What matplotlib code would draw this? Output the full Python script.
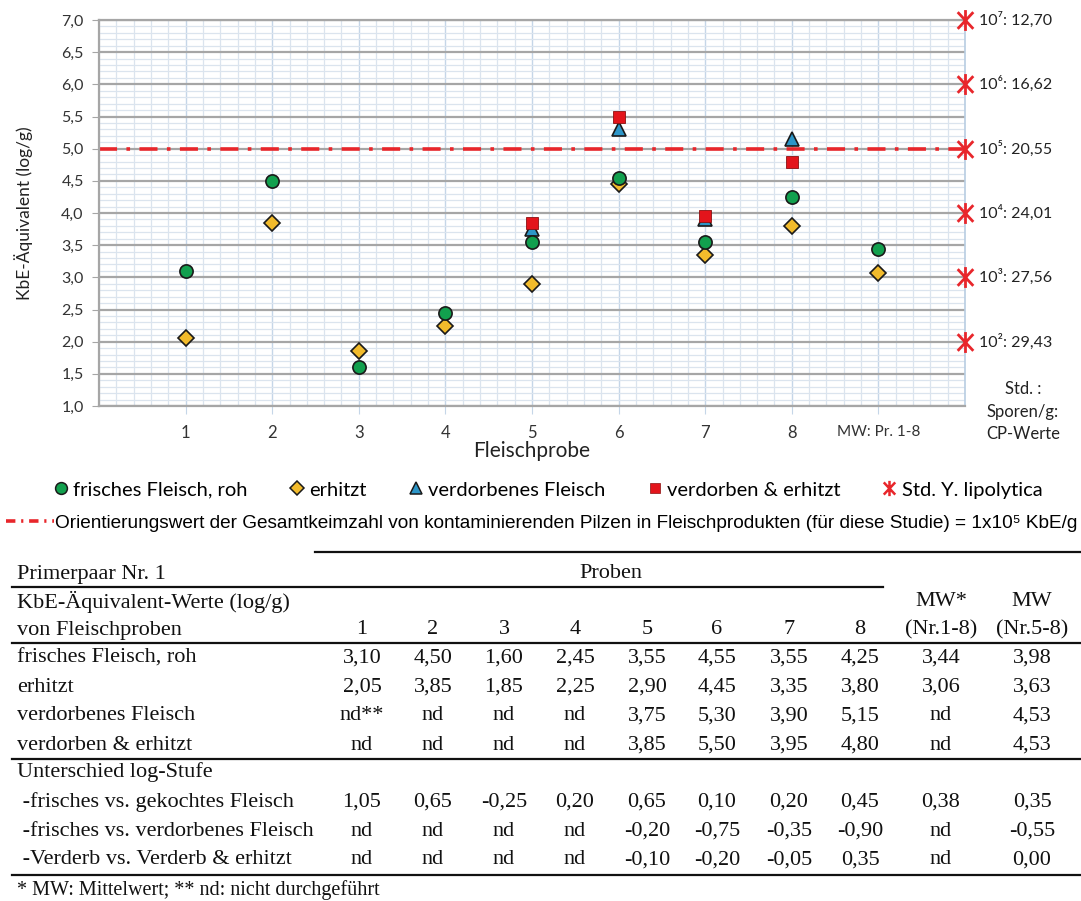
import numpy as np
import matplotlib
matplotlib.use("Agg")
import matplotlib.pyplot as plt
from matplotlib.lines import Line2D
from matplotlib.path import Path

# data (log KbE/g), Proben 1-8 + MW (Nr.1-8) + MW (Nr.5-8)
proben = ["1", "2", "3", "4", "5", "6", "7", "8"]
frisch = [3.10, 4.50, 1.60, 2.45, 3.55, 4.55, 3.55, 4.25, 3.44, 3.98]
erhitzt = [2.05, 3.85, 1.85, 2.25, 2.90, 4.45, 3.35, 3.80, 3.06, 3.63]
verdorben = [None, None, None, None, 3.75, 5.30, 3.90, 5.15, None, 4.53]
verd_erh = [None, None, None, None, 3.85, 5.50, 3.95, 4.80, None, 4.53]
diff_gekocht = [1.05, 0.65, -0.25, 0.20, 0.65, 0.10, 0.20, 0.45, 0.38, 0.35]
diff_verdorben = [None, None, None, None, -0.20, -0.75, -0.35, -0.90, None, -0.55]
diff_verderb = [None, None, None, None, -0.10, -0.20, -0.05, 0.35, None, 0.00]

std_log = [7, 6, 5, 4, 3, 2]
std_cp = ["12,70", "16,62", "20,55", "24,01", "27,56", "29,43"]
std_sup = ["\u2077", "\u2076", "\u2075", "\u2074", "\u00b3", "\u00b2"]
grenzwert = 5.0

W, H = 1081, 901
def fx(p): return p / W
def fy(p): return 1 - p / H

CAL = ["Lato", "DejaVu Sans"]
ARI = ["Liberation Sans", "DejaVu Sans"]
TNR = ["Liberation Serif", "DejaVu Serif"]

fig = plt.figure(figsize=(W / 100, H / 100), dpi=100)
ax = fig.add_axes([fx(99), fy(406), (965 - 99) / W, (406 - 20) / H])

# grid
ax.set_xlim(0, 10)
ax.set_ylim(1, 7)
ax.set_yticks(np.arange(1, 7.01, 0.5))
ax.set_yticks(np.arange(1, 7.01, 0.1), minor=True)
ax.set_xticks(range(1, 10))
ax.set_xticks(np.arange(0, 10.01, 0.2), minor=True)
ax.grid(which="minor", color="#dbe4ee", lw=0.9)
ax.grid(which="major", axis="x", color="#c5d6e8", lw=1.0)
ax.grid(which="major", axis="y", color="#a6a6a6", lw=1.6)
ax.set_axisbelow(True)
ax.set_yticklabels([f"{v:.1f}".replace(".", ",") for v in np.arange(1, 7.01, 0.5)],
                   family=CAL, fontsize=11.5, color="#333333")
ax.set_xticklabels(proben + ["MW: Pr. 1-8"], family=CAL, fontsize=12, color="#333333")
ax.get_xticklabels()[-1].set_fontsize(11)
ax.tick_params(axis="x", which="major", length=6, color="#c5d6e8", pad=8)
ax.tick_params(axis="y", which="major", length=5, color="#a6a6a6", pad=6)
ax.tick_params(which="minor", length=0)
for s in ["left", "bottom", "top"]:
    ax.spines[s].set_color("#a6a6a6")
    ax.spines[s].set_linewidth(1.6)
ax.spines["right"].set_color("#b8cde2")
ax.spines["right"].set_linewidth(1.2)

ax.set_xlabel("Fleischprobe", family=CAL, fontsize=15, color="#222222", labelpad=0)
ax.set_ylabel("KbE-\u00c4quivalent (log/g)", family=CAL, fontsize=12.5, color="#222222", labelpad=20)

# Orientierungswert
ax.axhline(grenzwert, color="#e8262b", lw=2.6, dashes=(5, 2.6, 1, 2.6), zorder=2)

x9 = np.arange(1, 10)
x58 = np.arange(5, 9)
ax.plot(x9, frisch[:9], ls="none", marker="o", ms=9.5, mfc="#12a04e", mec="#1a1a1a", mew=1.2, zorder=5)
ax.plot(x9, erhitzt[:9], ls="none", marker="D", ms=8, mfc="#f2bb2c", mec="#1a1a1a", mew=1.2, zorder=4)
ax.plot(x58, verdorben[4:8], ls="none", marker="^", ms=9.5, mfc="#2d96c8", mec="#1a1a1a", mew=1.2, zorder=3)
ax.plot(x58, verd_erh[4:8], ls="none", marker="s", ms=8, mfc="#e3141b", mec="#8a1010", mew=0.6, zorder=3)

star = Path([(0, -1), (0, 1), (-0.75, -0.8), (0.75, 0.8), (-0.75, 0.8), (0.75, -0.8)],
            [Path.MOVETO, Path.LINETO, Path.MOVETO, Path.LINETO, Path.MOVETO, Path.LINETO])
ax.plot([10] * len(std_log), std_log, ls="none", marker=star, ms=15, mec="#e8262b", mew=2,
        clip_on=False, zorder=6)
for yv, sup, cp in zip(std_log, std_sup, std_cp):
    ax.annotate(f"10{sup}: {cp}", (10, yv), xytext=(10, 0), textcoords="offset points",
                va="center", ha="left", family=CAL, fontsize=11.5, color="#222222",
                annotation_clip=False)

fig.text(fx(1023), fy(412), "Std. :\nSporen/g:\nCP-Werte", ha="center", va="center",
         family=CAL, fontsize=12, color="#222222", linespacing=1.5)

# legends
handles = [
    Line2D([], [], ls="none", marker="o", ms=8.5, mfc="#12a04e", mec="#1a1a1a", mew=1.1),
    Line2D([], [], ls="none", marker="D", ms=7, mfc="#f2bb2c", mec="#1a1a1a", mew=1.1),
    Line2D([], [], ls="none", marker="^", ms=8.5, mfc="#2d96c8", mec="#1a1a1a", mew=1.1),
    Line2D([], [], ls="none", marker="s", ms=7.5, mfc="#e3141b", mec="#8a1010", mew=0.5),
    Line2D([], [], ls="none", marker=star, ms=11, mec="#e8262b", mew=1.8),
]
labels = ["frisches Fleisch, roh", "erhitzt", "verdorbenes Fleisch", "verdorben & erhitzt",
          "Std. Y. lipolytica"]
fig.legend(handles, labels, loc="center left", bbox_to_anchor=(fx(54), fy(490)), ncol=5,
           frameon=False, prop={"family": CAL, "size": 14.5}, handlelength=0.7,
           handletextpad=0.25, columnspacing=2.1, borderpad=0, borderaxespad=0)

fig.legend([Line2D([], [], color="#e8262b", lw=2.6, dashes=(2.6, 1.6, 0.6, 1.6))],
           ["Orientierungswert der Gesamtkeimzahl von kontaminierenden Pilzen in "
            "Fleischprodukten (f\u00fcr diese Studie) = 1x10\u2075 KbE/g"],
           loc="center left", bbox_to_anchor=(fx(6), fy(523)), frameon=False,
           prop={"family": ARI, "size": 13.7}, handlelength=2.5, handletextpad=0.1,
           borderpad=0, borderaxespad=0)

# table
col_x = [362, 433, 504, 575, 647, 717, 789, 860, 941, 1032]
def fmt(v, nd="nd"):
    return nd if v is None else f"{v:.2f}".replace(".", ",")

def line(y, x0, x1, lw=1.6):
    fig.add_artist(Line2D([fx(x0), fx(x1)], [fy(y), fy(y)], color="#111111", lw=lw))

ts = 16
def cell(x, y, s, ha="center", size=ts):
    fig.text(fx(x), fy(y), s, ha=ha, va="center", family=TNR, fontsize=size, color="#111111")

line(552, 315, 1080)
cell(17, 574, "Primerpaar Nr. 1", ha="left")
cell(611, 574, "Proben")
line(587, 12, 883)
cell(17, 602, "KbE-\u00c4quivalent-Werte (log/g)", ha="left")
cell(941, 602, "MW*")
cell(1032, 602, "MW")
cell(17, 630, "von Fleischproben", ha="left")
for x, p in zip(col_x[:8], proben):
    cell(x, 630, p)
cell(col_x[8], 630, "(Nr.1-8)")
cell(col_x[9], 630, "(Nr.5-8)")
line(643, 12, 1080)

rows_a = [("frisches Fleisch, roh", frisch), ("erhitzt", erhitzt),
          ("verdorbenes Fleisch", verdorben), ("verdorben & erhitzt", verd_erh)]
for i, (name, vals) in enumerate(rows_a):
    y = 658 + i * 29
    cell(17, y, name, ha="left")
    for j, (x, v) in enumerate(zip(col_x, vals)):
        s = fmt(v)
        if name == "verdorbenes Fleisch" and j == 0:
            s = "nd**"
        cell(x, y, s)
line(759, 12, 1080)

cell(17, 772, "Unterschied log-Stufe", ha="left")
rows_b = [(" -frisches vs. gekochtes Fleisch", diff_gekocht),
          (" -frisches vs. verdorbenes Fleisch", diff_verdorben),
          (" -Verderb vs. Verderb & erhitzt", diff_verderb)]
for i, (name, vals) in enumerate(rows_b):
    y = 802 + i * 29
    cell(17, y, name, ha="left")
    for x, v in zip(col_x, vals):
        cell(x, y, fmt(v))
line(875, 12, 1080)
cell(17, 890, "* MW: Mittelwert; ** nd: nicht durchgef\u00fchrt", ha="left", size=14.5)

fig.savefig("out.png", dpi=100)
